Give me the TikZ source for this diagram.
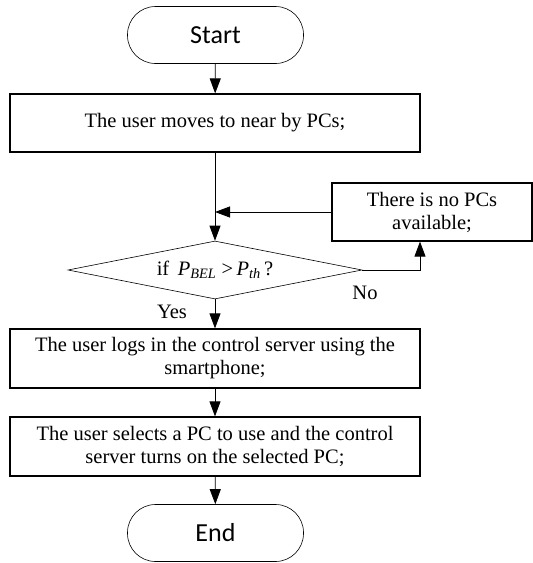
\documentclass[tikz,border=0pt]{standalone}
\usepackage{fontspec}
\setmainfont{Liberation Serif}
\newfontfamily\calib{Carlito}
\usetikzlibrary{arrows.meta,shapes.geometric}
\begin{document}
\begin{tikzpicture}[x=1pt,y=-1pt,
  proc/.style={draw,line width=1.2pt,minimum width=410pt,minimum height=58pt,inner sep=0pt,align=center,font=\fontsize{20.5}{23}\selectfont},
  term/.style={draw,line width=0.6pt,rounded corners=28pt,minimum width=176pt,minimum height=57pt,inner sep=0pt,font=\calib\fontsize{26}{30}\selectfont},
  decision/.style={draw,diamond,shape aspect=5.07,line width=0.6pt,minimum width=294pt,minimum height=58pt,inner sep=0pt,font=\fontsize{20.5}{23}\selectfont},
  arr/.style={line width=0.8pt,-{Triangle[length=15pt,width=11pt]}},
  lbl/.style={font=\fontsize{20.5}{23}\selectfont,inner sep=0pt}]
\useasboundingbox (0,0) rectangle (533,563);
\node[term] (start) at (215.5,35) {Start};
\node[proc] (b1) at (215,123) {The user moves to near by PCs;};
\node[proc,minimum width=200pt] (nopc) at (432,212) {There is no PCs\\available;};
\node[decision] (dec) at (215,270) {if\ \,\textit{P}\textsubscript{\textit{BEL}} >\,\textit{P}\textsubscript{\textit{th}}\,?};
\node[proc,minimum height=59pt] (b2) at (215,358.5) {The user logs in the control server using the\\smartphone;};
\node[proc,minimum height=59pt] (b3) at (215,446.5) {The user selects a PC to use and the control\\server turns on the selected PC;};
\node[term] (endn) at (215.5,533) {End};
\node[lbl] (yes) at (172,312) {Yes};
\node[lbl] (no) at (365,293) {No};
\coordinate (up) at ([xshift=-12pt]nopc.south);
\draw[arr] (start) -- (b1);
\draw[arr] (b1) -- (dec);
\draw[arr] (nopc.west) -- (nopc.west -| dec.north);
\draw[arr] (dec.east) -| (up);
\draw[arr] (dec) -- (b2);
\draw[arr] (b2) -- (b3);
\draw[arr] (b3) -- (endn);
\end{tikzpicture}
\end{document}
